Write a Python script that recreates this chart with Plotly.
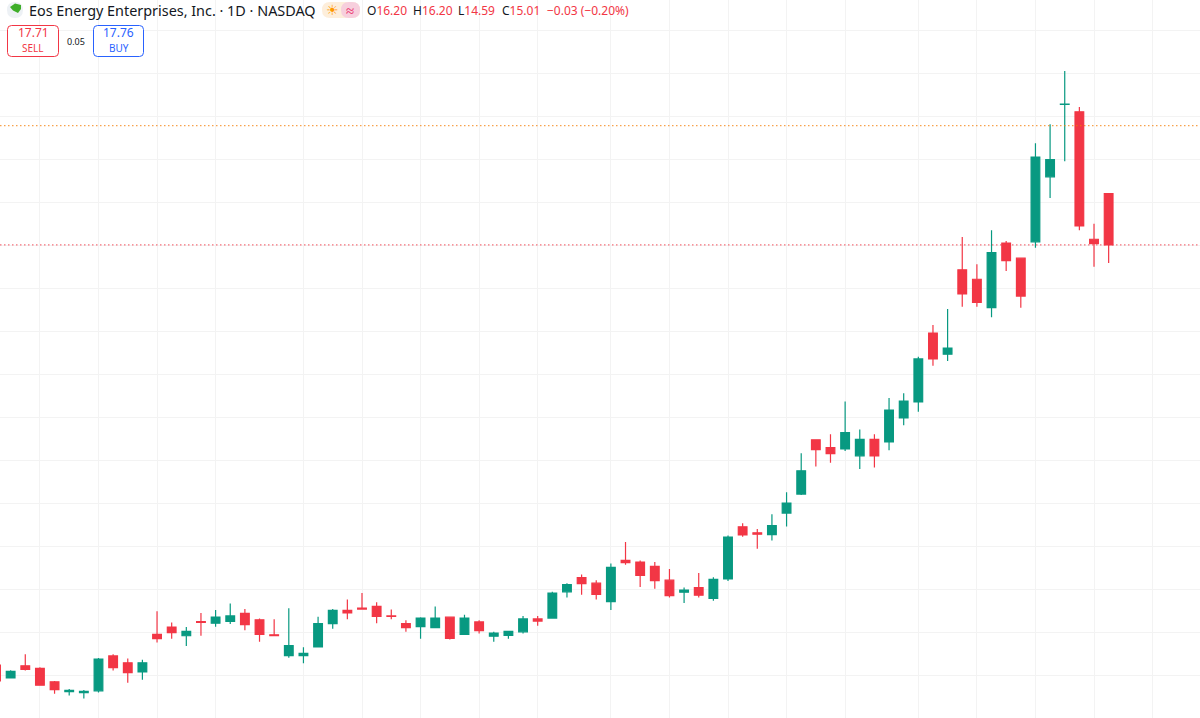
import plotly.graph_objects as go

opens = [5.25, 4.95, 5.23, 5.17, 4.86, 4.63, 4.61, 4.65, 5.46, 5.30, 5.09, 5.96, 6.13, 5.93, 6.26, 6.22, 6.26, 6.45, 6.30, 5.95,
         5.47, 5.47, 5.67, 6.21, 6.52, 6.57, 6.61, 6.39, 6.21, 6.14, 6.12, 6.36, 5.96, 6.25, 5.92, 5.94, 6.02, 6.32, 6.34, 6.95,
         7.28, 7.15, 6.72, 7.68, 7.64, 7.54, 7.22, 6.94, 7.05, 6.80, 7.25, 8.46, 8.32, 8.28, 8.78, 9.22, 10.48, 10.30, 10.27, 10.11,
         10.49, 10.43, 10.99, 11.36, 12.96, 12.47, 14.43, 14.21, 13.55, 15.05, 14.70, 15.08, 16.59, 18.27, 18.10, 15.14, 16.20]
highs = [5.26, 5.13, 5.50, 5.20, 4.88, 4.69, 4.67, 5.41, 5.50, 5.40, 5.37, 6.50, 6.24, 6.13, 6.46, 6.53, 6.68, 6.55, 6.33, 6.31,
         6.57, 5.66, 6.37, 6.55, 6.77, 6.92, 6.71, 6.54, 6.29, 6.36, 6.61, 6.36, 6.42, 6.29, 6.02, 6.03, 6.39, 6.39, 6.95, 7.15,
         7.35, 7.22, 7.61, 8.11, 7.68, 7.64, 7.48, 7.05, 7.39, 7.29, 8.26, 8.54, 8.41, 8.75, 9.26, 10.17, 10.48, 10.61, 11.37, 10.72,
         10.61, 11.45, 11.56, 12.41, 13.15, 13.52, 15.19, 14.56, 15.35, 15.10, 14.71, 17.37, 17.81, 19.05, 18.21, 15.50, 16.20]
lows = [4.88, 4.95, 5.12, 4.78, 4.58, 4.54, 4.47, 4.61, 5.12, 4.84, 4.91, 5.77, 5.86, 5.69, 5.93, 6.14, 6.20, 6.06, 5.79, 5.92,
        5.42, 5.29, 5.67, 6.09, 6.31, 6.54, 6.22, 6.31, 6.02, 5.86, 6.12, 5.84, 5.95, 5.98, 5.79, 5.86, 5.98, 6.16, 6.34, 6.82,
        6.88, 6.77, 6.53, 7.58, 7.06, 7.02, 6.82, 6.69, 6.82, 6.74, 7.20, 8.23, 7.95, 8.14, 8.47, 9.20, 9.86, 9.95, 10.22, 9.80,
        9.84, 10.24, 10.82, 11.13, 12.20, 12.31, 13.57, 13.57, 13.33, 14.40, 13.55, 14.94, 16.10, 16.95, 15.35, 14.50, 14.59]
closes = [4.88, 5.10, 5.15, 4.78, 4.68, 4.66, 4.64, 5.39, 5.19, 5.07, 5.30, 5.86, 6.00, 6.03, 6.24, 6.36, 6.39, 6.19, 5.96, 5.93,
          5.70, 5.52, 6.21, 6.52, 6.46, 6.55, 6.38, 6.38, 6.12, 6.34, 6.34, 5.87, 6.34, 6.05, 5.99, 6.03, 6.32, 6.27, 6.92, 7.12,
          7.14, 6.89, 7.52, 7.63, 7.33, 7.21, 6.86, 6.99, 6.87, 7.24, 8.22, 8.27, 8.29, 8.49, 9.01, 9.76, 10.25, 10.16, 10.65, 10.49,
          10.11, 11.17, 11.38, 12.36, 12.36, 12.61, 13.87, 13.67, 14.83, 14.64, 13.82, 17.05, 16.99, 18.28, 15.45, 15.04, 15.01]

week_ticks = [3, 7, 11, 15, 21, 25, 29, 33, 37, 42, 46, 50, 54, 58, 63, 67, 71, 75, 79]
price_ticks = list(range(5, 21))
last_price = 15.01
order_price = 17.78

ohlc_labels = ["O16.20", "H16.20", "L14.59", "C15.01"]
change_label = "−0.03 (−0.20%)"

GREEN = "#089981"
RED = "#F23645"
BLUE = "#2962FF"
FONT = "Noto Sans"
W, H = 1200, 718


def px(x):
    return x / W


def py(y):
    return 1 - y / H


def round_box(x0, y0, x1, y1, r):
    # rounded rectangle as an svg path, in paper coords
    return (f"M {px(x0 + r)} {py(y0)} L {px(x1 - r)} {py(y0)} Q {px(x1)} {py(y0)} {px(x1)} {py(y0 + r)} "
            f"L {px(x1)} {py(y1 - r)} Q {px(x1)} {py(y1)} {px(x1 - r)} {py(y1)} "
            f"L {px(x0 + r)} {py(y1)} Q {px(x0)} {py(y1)} {px(x0)} {py(y1 - r)} "
            f"L {px(x0)} {py(y0 + r)} Q {px(x0)} {py(y0)} {px(x0 + r)} {py(y0)} Z")


def leaf():
    points = [(10, 7), (15, 3.5), (21, 5), (21, 9), (18, 13), (15, 11.5), (13, 10.5)]
    return "M " + " L ".join(f"{px(x)} {py(y)}" for x, y in points) + " Z"


def label(fig, x, y, text, size, color, anchor="left"):
    fig.add_annotation(xref="paper", yref="paper", x=px(x), y=py(y), text=text, showarrow=False,
                       xanchor=anchor, yanchor="middle", align=anchor, borderpad=0, borderwidth=0,
                       font=dict(family=FONT, size=size, color=color))


fig = go.Figure(go.Candlestick(
    x=list(range(len(opens))), open=opens, high=highs, low=lows, close=closes,
    increasing=dict(line=dict(color=GREEN, width=1.2), fillcolor=GREEN),
    decreasing=dict(line=dict(color=RED, width=1.2), fillcolor=RED),
    whiskerwidth=0, showlegend=False))

fig.add_hline(y=order_price, opacity=0.7, line=dict(color="#F57C00", width=1.2, dash="1.5px,2.5px"))
fig.add_hline(y=last_price, opacity=0.7, line=dict(color=RED, width=1.2, dash="1.5px,2.5px"))

# header: logo, title, weather pill
fig.add_shape(type="path", xref="paper", yref="paper", path=round_box(7, 2, 23, 18, 8),
              fillcolor="#EDF1F5", line_width=0)
fig.add_shape(type="path", xref="paper", yref="paper", path=leaf(),
              fillcolor="#3FAE2A", line_width=0)
label(fig, 29, 10, "Eos Energy Enterprises, Inc. · 1D · NASDAQ", 14.4, "#131722")
fig.add_shape(type="path", xref="paper", yref="paper", path=round_box(322, 2, 360, 18, 8),
              fillcolor="#FDEEDB", line_width=0)
fig.add_shape(type="path", xref="paper", yref="paper", path=round_box(341, 2, 360, 18, 8),
              fillcolor="#F7CFDD", line_width=0)
label(fig, 332, 9, "☀", 14, "#FF9800", "center")
label(fig, 350, 10, "≈", 15, "#E91E63", "center")

for x, text in zip([367, 413, 458, 502], ohlc_labels):
    label(fig, x, 10, f'<span style="color:#131722">{text[0]}</span>{text[1:]}', 12, RED)
label(fig, 547, 10, change_label, 12, RED)

# sell / buy badges
fig.add_shape(type="path", xref="paper", yref="paper", path=round_box(7.5, 25.5, 58.5, 56.5, 4),
              fillcolor="white", line=dict(color=RED, width=1))
fig.add_shape(type="path", xref="paper", yref="paper", path=round_box(93.5, 25.5, 143.5, 56.5, 4),
              fillcolor="white", line=dict(color=BLUE, width=1))
label(fig, 33, 33, "17.71", 12, RED, "center")
label(fig, 33, 48, "SELL", 10, RED, "center")
label(fig, 76, 41, "0.05", 9, "#131722", "center")
label(fig, 118.5, 33, "17.76", 12, BLUE, "center")
label(fig, 118.5, 48, "BUY", 10, BLUE, "center")

fig.update_layout(
    width=W, height=H, margin=dict(l=0, r=0, t=0, b=0),
    paper_bgcolor="white", plot_bgcolor="white", boxgap=0.15,
    xaxis=dict(range=[0.273, 82.24], tickvals=week_ticks, showticklabels=False, ticks="",
               showgrid=True, gridcolor="#F3F3F3", gridwidth=1, zeroline=False, showline=False,
               rangeslider=dict(visible=False)),
    yaxis=dict(range=[4.019, 20.697], tickvals=price_ticks, showticklabels=False, ticks="",
               showgrid=True, gridcolor="#F3F3F3", gridwidth=1, zeroline=False, showline=False),
)

# the page keeps its default 8px body margin otherwise
fig.write_html("out.html", config=dict(displayModeBar=False),
               post_script="document.body.style.margin = '0';")
